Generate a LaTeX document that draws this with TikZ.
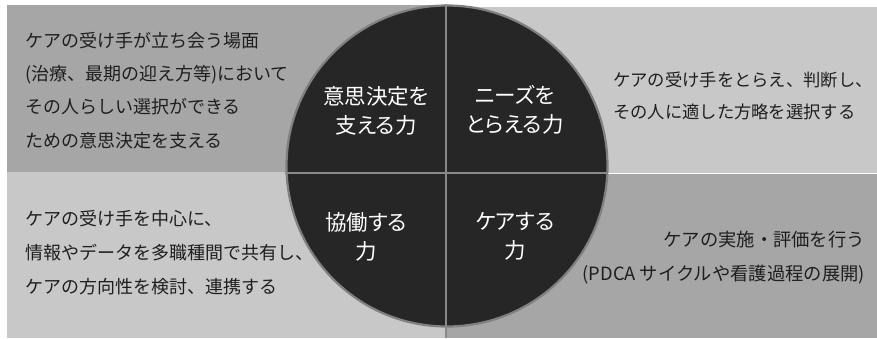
\documentclass[tikz,border=0pt]{standalone}
\usepackage{fontspec}
\setmainfont{Noto Sans CJK JP}
\newfontfamily\paltfont{Noto Sans CJK JP}[RawFeature=+palt]
\definecolor{cDark}{HTML}{A6A6A6}
\definecolor{cLight}{HTML}{C8C8C8}
\definecolor{cCircle}{HTML}{262626}
\definecolor{cRim}{HTML}{808080}
\definecolor{cLine}{HTML}{888888}
\definecolor{cText}{HTML}{1E1E1E}
\tikzset{
  desc/.style={inner sep=0pt, text=cText},
  ctext/.style={inner sep=0pt, text=white, align=center, font={\paltfont\fontsize{21.5}{29}\selectfont}},
  divider/.style={draw=cLine, line width=2.2pt},
}
\begin{document}
\begin{tikzpicture}[x=1pt,y=-1pt]
\useasboundingbox (0,0) rectangle (877,338);
\fill[cDark]  (7,5) rectangle (446,172);
\fill[cLight] (446,7) rectangle (877,173);
\fill[cLight] (7,172) rectangle (446,338);
\fill[cDark]  (446,174) rectangle (877,338);
\node[circle, fill=cCircle, draw=cRim, line width=2.2pt, minimum size=321pt, inner sep=0pt] (c) at (447,166) {};
\coordinate (vt) at (446,4);
\coordinate (vb) at (446,338);
\coordinate (hl) at (285,173);
\coordinate (hr) at (607,173);
\draw[divider] (vt) -- (vb);
\draw[divider] (hl) -- (hr);
\node[desc, anchor=west, align=left, font={\fontsize{18}{33.2}\selectfont}] (tl) at (25,90.5) {ケアの受け手が立ち会う場面\\(治療、最期の迎え方等)において\\その人らしい選択ができる\\ための意思決定を支える};
\node[desc, anchor=west, align=left, font={\fontsize{17.3}{32}\selectfont}] (tr) at (613,96) {ケアの受け手をとらえ、判断し、\\その人に適した方略を選択する};
\node[desc, anchor=west, align=left, font={\fontsize{18}{34}\selectfont}] (bl) at (25,253) {ケアの受け手を中心に、\\情報やデータを多職種間で共有し、\\ケアの方向性を検討、連携する};
\node[desc, anchor=east, align=right, font={\fontsize{18.3}{34}\selectfont}] (br) at (865,258) {ケアの実施・評価を行う\\(PDCA サイクルや看護過程の展開)};
\node[ctext] (q1) at (376,110.5) {意思決定を\\支える力};
\node[ctext] (q2) at (515,110) {ニーズを\\とらえる力};
\node[ctext] (q3) at (366,237) {協働する\\力};
\node[ctext] (q4) at (515,236.5) {ケアする\\力};
\end{tikzpicture}
\end{document}
